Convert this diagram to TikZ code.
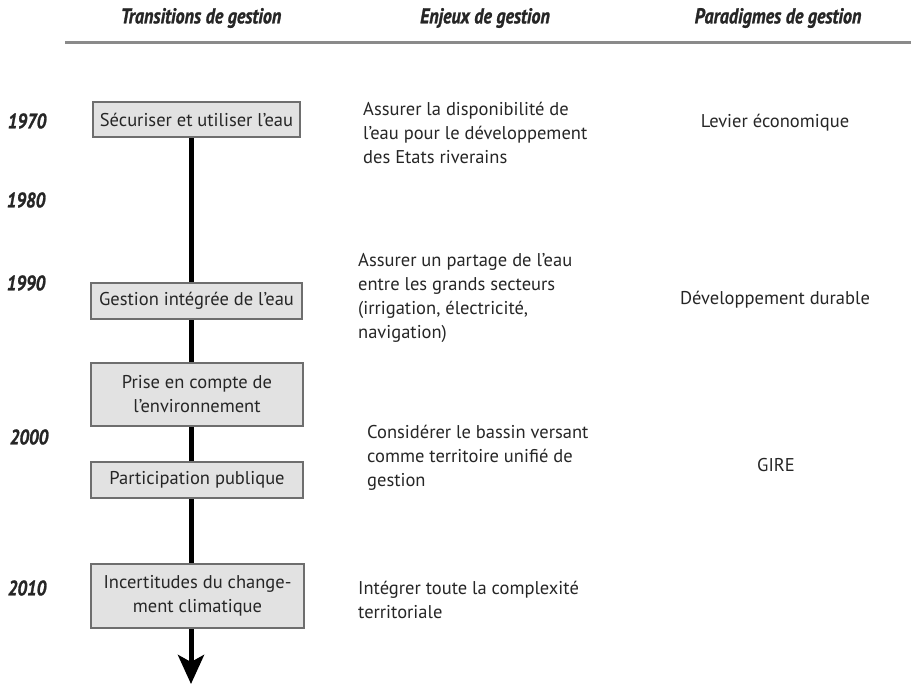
\documentclass[tikz,border=0pt]{standalone}
\usepackage{fontspec}
\setmainfont{PT Sans}
\newfontfamily\hdfont[FakeStretch=0.84,FakeBold=1.2]{PT Sans Bold Italic}
\usetikzlibrary{arrows.meta}
\definecolor{txt}{HTML}{262626}
\definecolor{boxfill}{HTML}{E2E2E2}
\definecolor{boxdraw}{HTML}{6E6E6E}
\definecolor{rule}{HTML}{8A8A8A}
\tikzset{
  stagebox/.style={draw=boxdraw, fill=boxfill, line width=1.6pt, text=txt, align=center,
    font=\fontsize{18.5}{24}\selectfont, inner sep=0pt},
  header/.style={text=txt, font=\hdfont\fontsize{21.5}{24}\selectfont},
  year/.style={text=txt, font=\hdfont\fontsize{21}{22}\selectfont},
  issue/.style={text=txt, align=left, anchor=west, inner sep=0pt, font=\fontsize{18.5}{23.8}\selectfont},
  paradigm/.style={text=txt, font=\fontsize{18.5}{20}\selectfont},
  timeline/.style={line width=5pt, black}
}
\begin{document}
\begin{tikzpicture}[x=1pt,y=-1pt]
\useasboundingbox (0,0) rectangle (911,685);
% headers
\node[header] (h1) at (201,18) {Transitions de gestion};
\node[header] (h2) at (485,18) {Enjeux de gestion};
\node[header] (h3) at (778,18) {Paradigmes de gestion};
\coordinate (rl) at (65,43);
\coordinate (rr) at (911,43);
\draw[rule, line width=3pt] (rl) -- (rr);
% years
\node[year] (y1970) at (27,121) {1970};
\node[year] (y1980) at (26,200) {1980};
\node[year] (y1990) at (26,283) {1990};
\node[year] (y2000) at (29,437) {2000};
\node[year] (y2010) at (27,588) {2010};
% timeline
\coordinate (top) at (191,130);
\coordinate (tip) at (191,684);
\draw[timeline, -{Stealth[length=29pt,width=26pt,inset=7pt]}] (top) -- (tip);
% boxes
\node[stagebox, minimum width=207pt, minimum height=35pt] (b1) at (196.5,119.5) {Sécuriser et utiliser l'eau};
\node[stagebox, minimum width=211pt, minimum height=36pt] (b2) at (196.5,301) {Gestion intégrée de l'eau};
\node[stagebox, minimum width=212pt, minimum height=63pt] (b3) at (197,394.5) {Prise en compte de\\l'environnement};
\node[stagebox, minimum width=212pt, minimum height=36pt] (b4) at (197,480) {Participation publique};
\node[stagebox, minimum width=213pt, minimum height=64pt] (b5) at (197.5,596) {Incertitudes du change-\\ment climatique};
% issues
\node[issue] (e1) at (363,133) {Assurer la disponibilité de\\l'eau pour le développement\\des Etats riverains};
\node[issue] (e2) at (358,298) {Assurer un partage de l'eau\\entre les grands secteurs\\(irrigation, électricité,\\navigation)};
\node[issue] (e3) at (367,458) {Considérer le bassin versant\\comme territoire unifié de\\gestion};
\node[issue] (e4) at (358,600) {Intégrer toute la complexité\\territoriale};
% paradigms
\node[paradigm] (p1) at (775,123) {Levier économique};
\node[paradigm] (p2) at (775,300) {Développement durable};
\node[paradigm] (p3) at (776,465) {GIRE};
\end{tikzpicture}
\end{document}
